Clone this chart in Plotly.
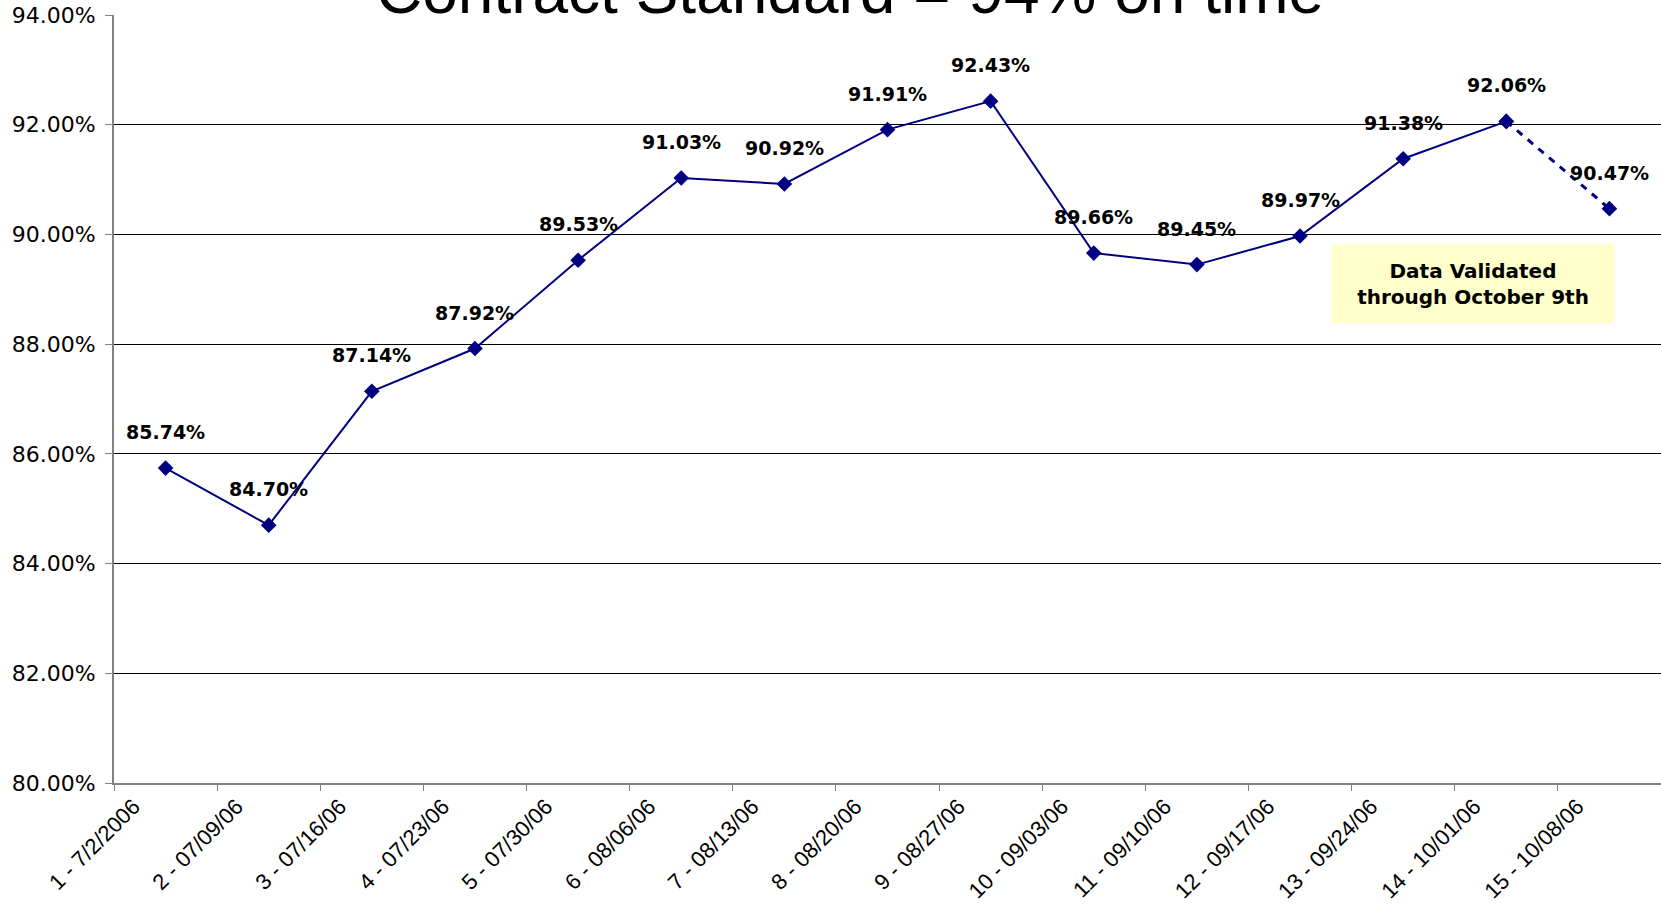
import plotly.graph_objects as go

categories = ["1 - 7/2/2006", "2 - 07/09/06", "3 - 07/16/06", "4 - 07/23/06", "5 - 07/30/06",
              "6 - 08/06/06", "7 - 08/13/06", "8 - 08/20/06", "9 - 08/27/06", "10 - 09/03/06",
              "11 - 09/10/06", "12 - 09/17/06", "13 - 09/24/06", "14 - 10/01/06", "15 - 10/08/06"]
on_time_pct = [85.74, 84.70, 87.14, 87.92, 89.53, 91.03, 90.92, 91.91, 92.43, 89.66,
               89.45, 89.97, 91.38, 92.06, 90.47]
y_ticks = [80, 82, 84, 86, 88, 90, 92, 94]
y_tick_labels = [f"{v:.2f}%" for v in y_ticks]
title_text = "Contract Standard = 94% on time"
note_text = "Data Validated<br>through October 9th"

NAVY = "#000080"
validated_n = 14  # points validated; last segment dotted

fig = go.Figure()
fig.add_trace(go.Scatter(
    x=categories[:validated_n], y=on_time_pct[:validated_n], mode="lines+markers",
    line=dict(color=NAVY, width=2), marker=dict(symbol="diamond", size=12, color=NAVY),
    showlegend=False, hoverinfo="skip"))
fig.add_trace(go.Scatter(
    x=categories[validated_n - 1:], y=on_time_pct[validated_n - 1:], mode="lines+markers",
    line=dict(color=NAVY, width=3, dash="7px,7px"), marker=dict(symbol="diamond", size=12, color=NAVY),
    showlegend=False, hoverinfo="skip"))

for c, v in zip(categories, on_time_pct):
    fig.add_annotation(x=c, y=v, text=f"<b>{v:.2f}%</b>", showarrow=False, yshift=36,
                       font=dict(family="DejaVu Sans", size=19, color="black"))

fig.add_annotation(xref="paper", yref="paper", x=0.8785, y=0.6497, xanchor="center", yanchor="middle",
                   text=f"<b>{note_text}</b>",
                   showarrow=False, bgcolor="#FFFFCC", width=280, height=76, align="center",
                   font=dict(family="DejaVu Sans", size=20, color="black"))

fig.add_annotation(xref="paper", yref="paper", x=0.476, y=1, xanchor="center", yanchor="middle", yshift=24,
                   text=title_text, showarrow=False,
                   font=dict(family="Liberation Sans, Arial", size=64, color="black"))

fig.update_layout(
    width=1661, height=904, margin=dict(l=114, r=0, t=15, b=121),
    paper_bgcolor="white", plot_bgcolor="white",
    xaxis=dict(type="category", categoryorder="array", categoryarray=categories,
               range=[-0.5, len(categories) - 0.5],
               tickson="boundaries", ticks="outside", ticklen=6, tickcolor="#808080",
               showline=True, linecolor="#808080", linewidth=2, showgrid=False,
               tickangle=-45, ticklabelshift=-32,
               tickfont=dict(family="Liberation Sans, Arial", size=22, color="black")),
    yaxis=dict(range=[80, 94], tickvals=y_ticks, ticktext=y_tick_labels,
               ticks="outside", ticklen=7, tickcolor="#808080", ticklabelstandoff=5,
               showline=True, linecolor="#808080", linewidth=2,
               showgrid=True, gridcolor="black", gridwidth=1, zeroline=False,
               tickfont=dict(family="DejaVu Sans", size=22, color="black")),
)

fig.write_html("out.html")
